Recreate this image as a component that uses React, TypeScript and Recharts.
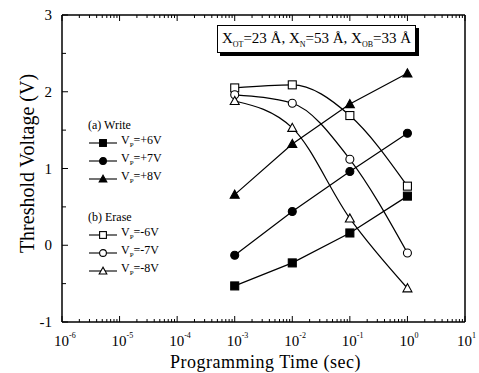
import { LineChart, Line, XAxis, YAxis, Legend } from "recharts";

const times = [1e-3, 1e-2, 1e-1, 1];
const writeP6 = [-0.53, -0.23, 0.16, 0.64];
const writeP7 = [-0.13, 0.44, 0.96, 1.46];
const writeP8 = [0.66, 1.32, 1.84, 2.24];
const eraseM6 = [2.05, 2.09, 1.69, 0.77];
const eraseM7 = [1.96, 1.85, 1.12, -0.1];
const eraseM8 = [1.88, 1.53, 0.35, -0.56];

const decadeExponents = [-6, -5, -4, -3, -2, -1, 0, 1];
const minorMultipliers = [2, 3, 4, 5, 6, 7, 8, 9];
const yTicks = [-1, -0.5, 0, 0.5, 1, 1.5, 2, 2.5, 3];

const xTicks = [
  ...decadeExponents.map((e) => Math.pow(10, e)),
  ...decadeExponents.slice(0, -1).flatMap((e) => minorMultipliers.map((m) => m * Math.pow(10, e))),
].sort((a, b) => a - b);

const rows = times.map((t, i) => ({
  t,
  p6: writeP6[i],
  p7: writeP7[i],
  p8: writeP8[i],
  m6: eraseM6[i],
  m7: eraseM7[i],
  m8: eraseM8[i],
}));

const FONT = "'Liberation Serif', 'DejaVu Serif', serif";

type Shape = "square" | "circle" | "triangle";

const series: { key: string; name: string; shape: Shape; filled: boolean; group: string; curve: "linear" | "monotone" }[] = [
  { key: "p6", name: "=+6V", shape: "square", filled: true, group: "(a) Write", curve: "linear" },
  { key: "p7", name: "=+7V", shape: "circle", filled: true, group: "(a) Write", curve: "linear" },
  { key: "p8", name: "=+8V", shape: "triangle", filled: true, group: "(a) Write", curve: "linear" },
  { key: "m6", name: "=-6V", shape: "square", filled: false, group: "(b) Erase", curve: "monotone" },
  { key: "m7", name: "=-7V", shape: "circle", filled: false, group: "(b) Erase", curve: "monotone" },
  { key: "m8", name: "=-8V", shape: "triangle", filled: false, group: "(b) Erase", curve: "monotone" },
];

function Marker({ cx, cy, shape, filled, s = 1 }: { cx: number; cy: number; shape: Shape; filled: boolean; s?: number }) {
  const fill = filled ? "#000" : "#fff";
  if (shape === "square")
    return <rect x={cx - 4 * s} y={cy - 4 * s} width={8 * s} height={8 * s} fill={fill} stroke="#000" strokeWidth={1.1} />;
  if (shape === "circle") return <circle cx={cx} cy={cy} r={4 * s} fill={fill} stroke="#000" strokeWidth={1.1} />;
  const h = 4.5 * s;
  return (
    <polygon
      points={`${cx},${cy - h} ${cx - h},${cy + h * 0.8} ${cx + h},${cy + h * 0.8}`}
      fill={fill}
      stroke="#000"
      strokeWidth={1.1}
    />
  );
}

const textStyle = { fontFamily: FONT, fill: "#000" };

const isMajor = (v: number) => Math.abs(Math.log10(v) - Math.round(Math.log10(v))) < 1e-6;

const BottomTick = (props: any) => {
  const { x, y, payload } = props;
  const v = payload.value;
  const major = isMajor(v);
  const exp = Math.round(Math.log10(v));
  return (
    <g>
      <line x1={x} x2={x} y1={y} y2={y - (major ? 6 : 3)} stroke="#000" strokeWidth={1} />
      {major && (
        <text x={x - 8} y={y + 24} textAnchor="start" style={{ ...textStyle, fontSize: 15 }}>
          10
          <tspan dy={-8} style={{ fontSize: 8 }}>
            {exp}
          </tspan>
        </text>
      )}
    </g>
  );
};

const TopTick = (props: any) => {
  const { x, y, payload } = props;
  const major = isMajor(payload.value);
  return <line x1={x} x2={x} y1={y} y2={y + (major ? 6 : 3)} stroke="#000" strokeWidth={1} />;
};

const LeftTick = (props: any) => {
  const { x, y, payload } = props;
  const v = payload.value;
  const major = Number.isInteger(v);
  return (
    <g>
      <line x1={x} x2={x + (major ? 6 : 4)} y1={y} y2={y} stroke="#000" strokeWidth={1} />
      {major && (
        <text x={x - 10} y={y + 5} textAnchor="end" style={{ ...textStyle, fontSize: 15 }}>
          {v}
        </text>
      )}
    </g>
  );
};

const RightTick = (props: any) => {
  const { x, y, payload } = props;
  const major = Number.isInteger(payload.value);
  return <line x1={x} x2={x - (major ? 6 : 4)} y1={y} y2={y} stroke="#000" strokeWidth={1} />;
};

const XTitle = (props: any) => {
  const { viewBox } = props;
  const cx = viewBox.x + viewBox.width / 2;
  return (
    <text x={cx + 2} y={viewBox.y + 46} textAnchor="middle" style={{ ...textStyle, fontSize: 18, letterSpacing: 0.5 }}>
      Programming Time (sec)
    </text>
  );
};

const YTitle = (props: any) => {
  const { viewBox } = props;
  const cy = viewBox.y + viewBox.height / 2 - 5;
  return (
    <text
      x={27}
      y={cy}
      transform={`rotate(-90, 27, ${cy})`}
      textAnchor="middle"
      dominantBaseline="central"
      style={{ ...textStyle, fontSize: 20 }}
    >
      Threshold Voltage (V)
    </text>
  );
};

const LegendBox = () => {
  const groups = ["(a) Write", "(b) Erase"];
  return (
    <div style={{ fontFamily: FONT, fontSize: 12, color: "#000", lineHeight: "18px" }}>
      {groups.map((g, gi) => (
        <div key={g} style={{ marginTop: gi === 0 ? 0 : 20 }}>
          <div>{g}</div>
          {series
            .filter((s) => s.group === g)
            .map((s) => (
              <div key={s.key} style={{ display: "flex", alignItems: "center", height: 18 }}>
                <svg width={30} height={14} style={{ display: "block" }}>
                  <line x1={1} x2={29} y1={7} y2={7} stroke="#000" strokeWidth={1.1} />
                  <Marker cx={15} cy={7} shape={s.shape} filled={s.filled} s={0.85} />
                </svg>
                <span style={{ marginLeft: 3 }}>
                  V<sub style={{ fontSize: 7 }}>P</sub>
                  {s.name}
                </span>
              </div>
            ))}
        </div>
      ))}
    </div>
  );
};

export default function App() {
  return (
    <div style={{ position: "absolute", left: 0, top: 0, width: 479, height: 373, background: "#fff" }}>
      <LineChart width={479} height={373} data={rows} margin={{ top: 14, right: 0, bottom: 0, left: 0 }}>
        <XAxis
          dataKey="t"
          type="number"
          scale="log"
          domain={[1e-6, 10]}
          allowDataOverflow
          ticks={xTicks}
          interval={0}
          height={51}
          tickSize={0}
          tickMargin={0}
          tickLine={false}
          tick={BottomTick}
          axisLine={{ stroke: "#000", strokeWidth: 1.5 }}
          label={{ content: XTitle }}
        />
        <XAxis
          xAxisId="top"
          dataKey="t"
          type="number"
          scale="log"
          domain={[1e-6, 10]}
          allowDataOverflow
          orientation="top"
          ticks={xTicks}
          interval={0}
          height={1}
          tickSize={0}
          tickMargin={0}
          tickLine={false}
          tick={TopTick}
          axisLine={{ stroke: "#000", strokeWidth: 1.5 }}
        />
        <YAxis
          type="number"
          domain={[-1, 3]}
          ticks={yTicks}
          interval={0}
          width={62}
          tickSize={0}
          tickMargin={0}
          tickLine={false}
          tick={LeftTick}
          axisLine={{ stroke: "#000", strokeWidth: 1.5 }}
          label={{ content: YTitle }}
        />
        <YAxis
          yAxisId="right"
          orientation="right"
          type="number"
          domain={[-1, 3]}
          ticks={yTicks}
          interval={0}
          width={14}
          tickSize={0}
          tickMargin={0}
          tickLine={false}
          tick={RightTick}
          axisLine={{ stroke: "#000", strokeWidth: 1.5 }}
        />
        <Legend
          content={<LegendBox />}
          layout="vertical"
          align="center"
          verticalAlign="middle"
          wrapperStyle={{ left: 88, top: 116, width: "auto" }}
        />
        {series.map((s) => (
          <Line
            key={s.key}
            dataKey={s.key}
            name={s.name}
            type={s.curve}
            stroke="#000"
            strokeWidth={1.2}
            isAnimationActive={false}
            dot={(p: any) => <Marker key={`${s.key}-${p.index}`} cx={p.cx} cy={p.cy} shape={s.shape} filled={s.filled} />}
            activeDot={false}
          />
        ))}
      </LineChart>
      <div
        style={{
          position: "absolute",
          left: 217,
          top: 25,
          width: 197,
          height: 26,
          border: "1px solid #000",
          boxShadow: "3px 3px 0 #000",
          background: "#fff",
          fontFamily: FONT,
          fontSize: 15,
          color: "#000",
          display: "flex",
          alignItems: "center",
          justifyContent: "center",
          whiteSpace: "nowrap",
        }}
      >
        <span>
          X<sub style={{ fontSize: 8 }}>OT</sub>=23 Å, X<sub style={{ fontSize: 8 }}>N</sub>=53 Å, X
          <sub style={{ fontSize: 8 }}>OB</sub>=33 Å
        </span>
      </div>
    </div>
  );
}
